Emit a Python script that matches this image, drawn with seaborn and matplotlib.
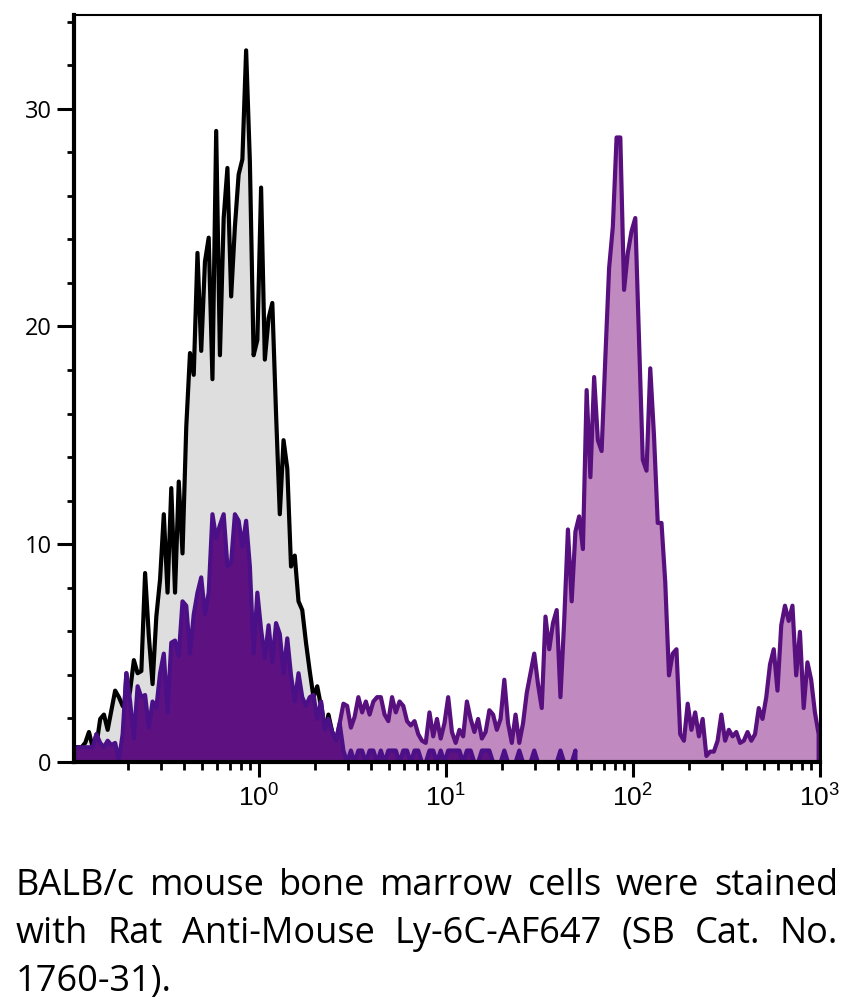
import numpy as np
import pandas as pd
import seaborn as sns
import matplotlib
from matplotlib import pyplot as plt
from matplotlib.ticker import MultipleLocator, LogLocator, NullFormatter

# histogram channels: 50 log bins per decade, 10^-1 .. 10^3
bin_edges_log = np.linspace(-1, 3, 201)

# unstained control (black outline, grey fill), bins 0..71
control = [0.7, 0.7, 0.7, 0.9, 1.4, 0.7, 0.8, 2.0, 2.2, 1.5,
           2.4, 3.3, 3.0, 2.6, 2.4, 3.3, 4.7, 4.1, 4.2, 8.7,
           5.8, 3.6, 6.7, 8.4, 11.4, 7.8, 12.6, 7.8, 12.9, 9.6,
           15.4, 18.8, 17.8, 23.4, 18.9, 23.0, 24.1, 17.6, 29.0, 18.7,
           25.0, 27.3, 21.4, 24.6, 27.0, 27.7, 32.7, 27.6, 18.7, 19.4,
           26.4, 18.5, 20.4, 21.1, 16.0, 11.4, 14.8, 13.5, 9.0, 9.5,
           7.4, 7.0, 5.5, 4.2, 3.0, 3.5, 2.6, 1.4, 2.2, 1.4,
           0.8, 0.3]

# Ly-6C stained sample, bins 0..199
stained = [0.7, 0.7, 0.7, 0.7, 0.7, 0.7, 1.3, 0.9, 0.7, 1.0,
           0.8, 0.9, 0.1, 1.3, 4.1, 2.8, 1.1, 3.5, 3.0, 3.1,
           1.6, 2.8, 2.5, 4.1, 5.0, 2.3, 5.5, 5.6, 4.9, 7.4,
           7.2, 5.0, 6.8, 7.8, 8.5, 6.8, 7.8, 11.4, 10.3, 10.9,
           11.4, 9.0, 9.2, 11.4, 11.1, 9.9, 11.1, 9.0, 5.0, 7.8,
           6.1, 4.8, 6.3, 4.6, 6.4, 5.9, 4.1, 5.7, 4.0, 2.8,
           4.1, 3.0, 2.6, 3.0, 3.1, 2.0, 2.8, 1.5, 2.0, 1.4,
           1.0, 1.8, 2.7, 2.6, 1.6, 2.1, 3.0, 2.3, 2.8, 2.2,
           2.8, 3.0, 3.0, 2.2, 1.9, 3.0, 2.3, 2.8, 2.6, 1.9,
           1.7, 1.9, 1.3, 1.0, 0.9, 2.3, 1.2, 2.0, 1.1, 1.8,
           3.0, 1.4, 0.9, 1.5, 1.2, 2.8, 2.0, 1.4, 2.0, 1.1,
           1.4, 2.4, 2.2, 1.5, 2.0, 3.8, 1.8, 0.9, 2.2, 0.9,
           1.8, 3.2, 4.1, 5.0, 3.6, 2.5, 6.7, 5.2, 6.4, 7.0,
           3.0, 6.5, 10.7, 7.4, 10.6, 11.3, 9.8, 17.1, 13.1, 17.7,
           14.8, 14.3, 18.6, 22.7, 24.6, 28.7, 28.7, 21.7, 23.4, 24.4,
           25.0, 19.4, 13.9, 13.4, 18.1, 15.0, 11.0, 11.0, 8.3, 4.0,
           5.0, 5.2, 1.3, 1.0, 2.7, 1.5, 2.3, 1.2, 2.0, 0.3,
           0.5, 0.5, 1.0, 2.2, 1.0, 1.5, 1.2, 1.4, 0.9, 1.0,
           1.4, 1.0, 1.3, 2.5, 2.0, 3.0, 4.5, 5.2, 3.3, 6.3,
           7.2, 6.5, 7.2, 4.0, 6.0, 2.5, 4.6, 3.8, 2.3, 1.3]

# dim (negative) part of the stained sample past bin 71, bins 72..134
gated_tail = [.55, 0, .55, 0, .55, .55, 0, .55, .55, 0,
              .55, 0, .55, .55, .55, 0, .55, .55, 0, .55,
              .55, 0, 0, .55, .55, 0, .55, 0, .55, .55,
              .55, .55, 0, .55, .55, 0, 0, .55, .55, .55,
              0, 0, 0, .55, 0, 0, 0, .55, 0, 0,
              0, .55, 0, 0, 0, 0, 0, 0, .55, 0,
              0, 0, .55]
gated = stained[:72] + gated_tail

caption = [["BALB/c", "mouse", "bone", "marrow", "cells", "were", "stained"],
           ["with", "Rat", "Anti-Mouse", "Ly-6C-AF647", "(SB", "Cat.", "No."],
           ["1760-31)."]]

sns.set_style("ticks")
plt.rcParams['font.family'] = ['Open Sans', 'DejaVu Sans']
plt.rcParams['mathtext.fontset'] = 'custom'
plt.rcParams['mathtext.rm'] = 'Liberation Sans'
plt.rcParams['mathtext.it'] = 'Liberation Sans'
plt.rcParams['axes.unicode_minus'] = False
for k in ['text.color', 'xtick.color', 'ytick.color', 'axes.labelcolor',
          'axes.edgecolor']:
    plt.rcParams[k] = 'black'

W, H = 853, 1006
fig = plt.figure(figsize=(W / 100, H / 100), dpi=100)
ax = fig.add_axes([74 / W, 1 - 762 / H, (820 - 74) / W, (762 - 15) / H])


def hist(values, facecolor, edgecolor, z, element):
    n = len(values)
    edges = bin_edges_log[:n + 1]
    df = pd.DataFrame({'fluor': 10 ** ((edges[:-1] + edges[1:]) / 2),
                       'count': values})
    sns.histplot(data=df, x='fluor', weights='count', bins=n,
                 binrange=(edges[0], edges[-1]),
                 log_scale=True, element=element, fill=True,
                 facecolor=facecolor, edgecolor=edgecolor, linewidth=3.0,
                 zorder=z, ax=ax)


hist(stained, "#c08ac0", "#58107f", 1.0, "poly")
hist(control, "#dedede", "#000000", 1.5, "poly")
hist(gated, "#5e1282", "#4b1087", 2.0, "poly")

ax.set_xlim(0.103, 1000)
ax.set_ylim(0, 34.3)
ax.set_xlabel("")
ax.set_ylabel("")

ax.set_xticks([1, 10, 100, 1000])
ax.set_xticklabels(["$10^{0}$", "$10^{1}$", "$10^{2}$", "$10^{3}$"])
ax.xaxis.set_minor_locator(LogLocator(base=10, subs=np.arange(2, 10)))
ax.xaxis.set_minor_formatter(NullFormatter())
ax.yaxis.set_major_locator(MultipleLocator(10))
ax.yaxis.set_minor_locator(MultipleLocator(2))

ax.tick_params(axis='x', which='major', length=11, width=2.2, pad=6,
               labelsize=19, direction='out')
ax.tick_params(axis='x', which='minor', length=5.5, width=2.0, direction='out')
ax.tick_params(axis='y', which='major', length=12, width=2.2, pad=4,
               labelsize=17, direction='out')
ax.tick_params(axis='y', which='minor', length=5, width=2.0, direction='out')

for side in ['left', 'bottom']:
    ax.spines[side].set_linewidth(3.0)
ax.spines['right'].set_linewidth(2.2)
ax.spines['top'].set_linewidth(1.5)
for s in ax.spines.values():
    s.set_color('black')
    s.set_visible(True)

# justified caption under the plot
fig.canvas.draw()
r = fig.canvas.get_renderer()
x0, x1 = 16, 838
baselines = [895, 943, 991]
for words, yb in zip(caption, baselines):
    texts = [fig.text(0, 0, w, fontsize=26, va='baseline', ha='left')
             for w in words]
    widths = [t.get_window_extent(r).width for t in texts]
    if len(words) > 1:
        gap = (x1 - x0 - sum(widths)) / (len(words) - 1)
    else:
        gap = 0
    x = x0
    for t, w in zip(texts, widths):
        t.set_position((x / W, 1 - yb / H))
        x += w + gap

plt.savefig('out.png', dpi=100)
